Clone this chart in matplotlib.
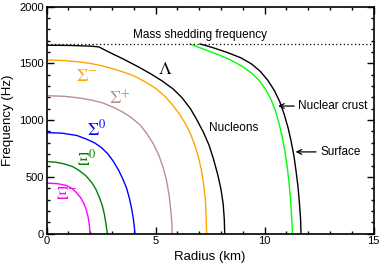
"""
plot.py
=======
Rotation frequency vs radius for the hyperon / nucleon thresholds,
with mass shedding limit, nuclear crust and surface.
"""

import matplotlib
import matplotlib.pyplot as plt
from matplotlib.ticker import MultipleLocator

matplotlib.use("Agg")

plt.rcParams["font.family"] = ["Liberation Sans", "DejaVu Sans"]
plt.rcParams["mathtext.fontset"] = "stix"

# ---------------------------------------------------------------------------
# Data
# ---------------------------------------------------------------------------
XI_MINUS_R = [0.0, 0.5, 0.9, 1.15, 1.35, 1.55, 1.7, 1.82, 1.9, 1.96, 1.99]
XI_MINUS_F = [445, 440, 425, 400, 365, 320, 270, 210, 150, 80, 0]

XI_ZERO_R = [0.0, 0.4, 0.8, 1.2, 1.5, 1.8, 2.05, 2.25, 2.42, 2.55, 2.65, 2.72, 2.77, 2.78]
XI_ZERO_F = [635, 630, 615, 590, 555, 510, 455, 395, 320, 250, 170, 90, 20, 0]

SIGMA_ZERO_R = [0.0, 0.7, 1.38, 1.8, 2.2, 2.5, 2.8, 3.05, 3.3, 3.5, 3.67, 3.8, 3.9, 3.98, 4.03, 4.05]
SIGMA_ZERO_F = [890, 885, 865, 835, 800, 760, 705, 640, 560, 480, 400, 310, 220, 130, 50, 0]

SIGMA_PLUS_R = [0.0, 0.8, 1.5, 2.1, 2.6, 3.1, 3.5, 3.9, 4.3, 4.6, 4.9, 5.15, 5.35, 5.5, 5.62, 5.7, 5.75, 5.76]
SIGMA_PLUS_F = [1215, 1210, 1195, 1175, 1150, 1110, 1070, 1020, 955, 880, 790, 690, 580, 470, 340, 200, 80, 0]

SIGMA_MINUS_R = [0.0, 0.8, 1.5, 2.0, 2.5, 3.0, 3.5, 4.0, 4.5, 5.0, 5.4, 5.75, 6.05, 6.35,
                 6.6, 6.8, 6.97, 7.1, 7.2, 7.28, 7.32, 7.34]
SIGMA_MINUS_F = [1530, 1525, 1512, 1500, 1480, 1455, 1425, 1390, 1340, 1280, 1215, 1140, 1065, 975,
                 880, 780, 670, 560, 440, 300, 150, 0]

LAMBDA_R = [0.0, 1.0, 2.0, 2.4, 2.8, 3.5, 4.2, 4.8, 5.3, 5.8, 6.2, 6.6, 6.9, 7.2, 7.45,
            7.65, 7.85, 8.0, 8.1, 8.15, 8.17]
LAMBDA_F = [1660, 1658, 1652, 1645, 1605, 1540, 1470, 1405, 1345, 1275, 1200, 1100, 1000, 890, 780,
            660, 520, 390, 260, 130, 0]

CRUST_R = [6.57, 7.2, 7.9, 8.5, 9.0, 9.4, 9.75, 10.05, 10.3, 10.5, 10.65, 10.8, 10.92,
           11.03, 11.12, 11.19, 11.24, 11.28]
CRUST_F = [1671, 1625, 1575, 1525, 1470, 1415, 1350, 1270, 1180, 1080, 980, 860, 740,
           600, 450, 300, 150, 0]

SURFACE_R = [7.04, 7.6, 8.3, 8.9, 9.4, 9.8, 10.15, 10.45, 10.7, 10.9, 11.08, 11.22, 11.35,
             11.45, 11.54, 11.6, 11.65, 11.67]
SURFACE_F = [1671, 1640, 1595, 1550, 1495, 1430, 1350, 1260, 1160, 1050, 930, 810, 680,
             540, 400, 260, 130, 0]

MASS_SHEDDING_F = 1671


def main() -> None:
    fig = plt.figure(figsize=(3.82, 2.64), dpi=100)
    ax = fig.add_axes([0.122, 0.115, 0.856, 0.86])

    ax.plot(XI_MINUS_R, XI_MINUS_F, color="#ff00ff", lw=1.0)
    ax.plot(XI_ZERO_R, XI_ZERO_F, color="#008000", lw=1.0)
    ax.plot(SIGMA_ZERO_R, SIGMA_ZERO_F, color="#0000ff", lw=1.0)
    ax.plot(SIGMA_PLUS_R, SIGMA_PLUS_F, color="#bc8f8f", lw=1.0)
    ax.plot(SIGMA_MINUS_R, SIGMA_MINUS_F, color="#ffa500", lw=1.0)
    ax.plot(LAMBDA_R, LAMBDA_F, color="black", lw=1.0)
    ax.plot(CRUST_R, CRUST_F, color="#00ff00", lw=1.0)
    ax.plot(SURFACE_R, SURFACE_F, color="black", lw=1.0)
    ax.axhline(MASS_SHEDDING_F, color="black", lw=0.9, ls=(0, (1, 2)))

    ax.text(7.05, 1750, "Mass shedding frequency", fontsize=8.5,
            ha="center", va="center")
    ax.text(8.6, 930, "Nucleons", fontsize=8.5, ha="center", va="center")

    greek = dict(fontsize=13, ha="center", va="center")
    ax.text(5.45, 1450, r"$\Lambda$", color="black", **greek)
    ax.text(1.85, 1385, r"$\Sigma^{-}$", color="#ffa500", **greek)
    ax.text(3.35, 1185, r"$\Sigma^{+}$", color="#bc8f8f", **greek)
    ax.text(2.3, 915, r"$\Sigma^{0}$", color="#0000ff", **greek)
    ax.text(1.85, 655, r"$\Xi^{0}$", color="#008000", **greek)
    ax.text(0.95, 345, r"$\Xi^{-}$", color="#ff00ff", **greek)

    arrow = dict(arrowstyle="->", color="black", lw=0.9, shrinkA=1, shrinkB=0)
    ax.annotate("Nuclear crust", xy=(10.62, 1124), xytext=(11.55, 1124),
                fontsize=8.5, va="center", ha="left", arrowprops=arrow)
    ax.annotate("Surface", xy=(11.42, 720), xytext=(12.55, 720),
                fontsize=8.5, va="center", ha="left", arrowprops=arrow)

    ax.set_xlim(0, 15)
    ax.set_ylim(0, 2000)
    ax.xaxis.set_major_locator(MultipleLocator(5))
    ax.xaxis.set_minor_locator(MultipleLocator(1))
    ax.yaxis.set_major_locator(MultipleLocator(500))
    ax.yaxis.set_minor_locator(MultipleLocator(100))
    ax.tick_params(which="both", direction="in", top=True, right=True,
                   labelsize=8, width=1.0, pad=2)
    ax.tick_params(which="major", length=5)
    ax.tick_params(which="minor", length=2.5)
    for spine in ax.spines.values():
        spine.set_linewidth(1.2)

    ax.set_xlabel("Radius (km)", fontsize=9.5)
    ax.set_ylabel("Frequency (Hz)", fontsize=9.5)
    ax.xaxis.set_label_coords(0.5, -0.075)
    ax.yaxis.set_label_coords(-0.1, 0.5)

    fig.savefig("out.png", dpi=100)
    plt.close(fig)


if __name__ == "__main__":
    main()
